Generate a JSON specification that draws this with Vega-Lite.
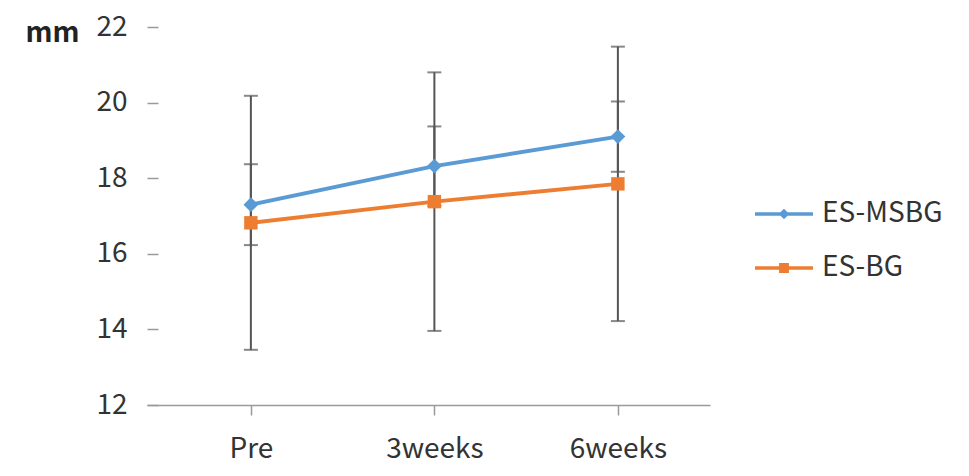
{
  "$schema": "https://vega.github.io/schema/vega-lite/v6.json",
  "autosize": "none",
  "width": 563,
  "height": 378,
  "padding": {"left": 147, "top": 27, "right": 259, "bottom": 71},
  "background": "white",
  "config": {
    "font": "Noto Sans CJK KR",
    "view": {"stroke": null}
  },
  "data": {
    "values": [
      {"series": "ES-MSBG", "time": "Pre", "mean": 17.30, "sd": 1.07},
      {"series": "ES-MSBG", "time": "3weeks", "mean": 18.32, "sd": 1.05},
      {"series": "ES-MSBG", "time": "6weeks", "mean": 19.10, "sd": 0.93},
      {"series": "ES-BG", "time": "Pre", "mean": 16.82, "sd": 3.36},
      {"series": "ES-BG", "time": "3weeks", "mean": 17.38, "sd": 3.42},
      {"series": "ES-BG", "time": "6weeks", "mean": 17.85, "sd": 3.63}
    ]
  },
  "encoding": {
    "x": {
      "field": "time",
      "type": "ordinal",
      "sort": ["Pre", "3weeks", "6weeks"],
      "scale": {"type": "point", "padding": 0.534, "align": 0.53},
      "axis": {
        "title": null,
        "labelAngle": 0,
        "labelFontSize": 28,
        "labelColor": "#333333",
        "domainColor": "#9a9a9a",
        "domainWidth": 1.5,
        "tickColor": "#9a9a9a",
        "tickWidth": 1.5,
        "tickSize": 10,
        "labelPadding": 20,
        "grid": false
      }
    }
  },
  "layer": [
    {
      "mark": {
        "type": "errorbar",
        "color": "#555555",
        "ticks": {"size": 14, "thickness": 2},
        "rule": {"strokeWidth": 2}
      },
      "encoding": {
        "y": {
          "field": "mean",
          "type": "quantitative",
          "scale": {"domain": [12, 22], "nice": false, "zero": false},
          "axis": {
            "title": "mm",
            "values": [12, 14, 16, 18, 20, 22],
            "domain": false,
            "grid": false,
            "offset": -11,
            "tickSize": 11,
            "tickColor": "#9a9a9a",
            "tickWidth": 1.5,
            "labelPadding": 20,
            "labelFontSize": 28,
            "labelColor": "#333333",
            "titleAngle": 0,
            "titleFontSize": 28,
            "titleFontWeight": "bold",
            "titleColor": "#222222",
            "titleAlign": "center",
            "titleBaseline": "alphabetic",
            "titleX": -106,
            "titleY": 14
          }
        },
        "yError": {"field": "sd"},
        "detail": {"field": "series"}
      }
    },
    {
      "mark": {"type": "line", "strokeWidth": 4},
      "encoding": {
        "y": {"field": "mean", "type": "quantitative"},
        "color": {
          "field": "series",
          "type": "nominal",
          "scale": {"domain": ["ES-MSBG", "ES-BG"], "range": ["#5B9BD5", "#ED7D31"]},
          "legend": {
            "title": null,
            "orient": "none",
            "legendX": 606,
            "legendY": 156,
            "labelFontSize": 28,
            "labelColor": "#333333",
            "labelOffset": 7,
            "symbolSize": 3364,
            "rowPadding": 9,
            "encode": {
              "symbols": {
                "update": {
                  "shape": {"signal": "datum.value === 'ES-MSBG' ? 'M-1,0H1M-0.1,0L0,-0.1L0.1,0L0,0.1Z' : 'M-1,0H1M-0.11,-0.11H0.11V0.11H-0.11Z'"},
                  "fill": {"scale": "color", "field": "value"},
                  "stroke": {"scale": "color", "field": "value"},
                  "strokeWidth": {"value": 3.5},
                  "size": {"value": 3364},
                  "opacity": {"value": 1}
                }
              }
            }
          }
        }
      }
    },
    {
      "transform": [{"filter": "datum.series === 'ES-MSBG'"}],
      "mark": {"type": "point", "shape": "diamond", "filled": true, "opacity": 1, "size": 220},
      "encoding": {
        "y": {"field": "mean", "type": "quantitative"},
        "color": {"field": "series", "type": "nominal"}
      }
    },
    {
      "transform": [{"filter": "datum.series === 'ES-BG'"}],
      "mark": {"type": "point", "shape": "square", "filled": true, "opacity": 1, "size": 180},
      "encoding": {
        "y": {"field": "mean", "type": "quantitative"},
        "color": {"field": "series", "type": "nominal"}
      }
    }
  ]
}
